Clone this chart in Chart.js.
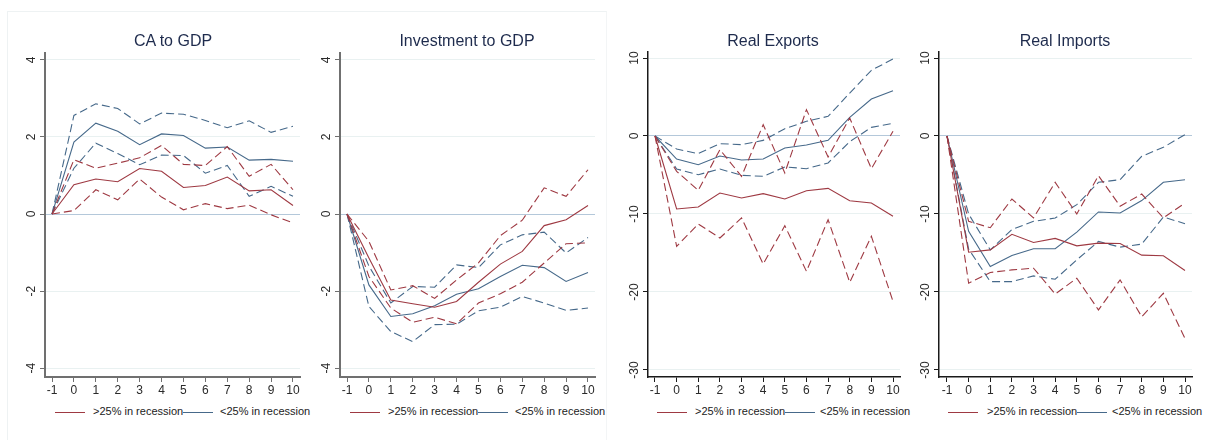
<!DOCTYPE html>
<html><head><meta charset="utf-8">
<script src="https://cdn.jsdelivr.net/npm/chart.js@4.4.0/dist/chart.umd.min.js"></script>
<style>
body{margin:0;background:#fff;width:1206px;height:440px;position:relative;overflow:hidden;font-family:"Liberation Sans",Arial,sans-serif;}
canvas{position:absolute;top:0;}
.title{position:absolute;top:32px;font-size:16px;color:#1e2b4d;transform:translateX(-50%);white-space:nowrap;}
.lg{position:absolute;top:405px;font-size:11px;color:#222;white-space:nowrap;}
.ln{position:absolute;top:412px;width:30px;height:0;border-top:1px solid;}
.frame{position:absolute;left:7px;top:11px;width:598px;height:440px;border-top:1px solid #eef2f3;border-left:1px solid #eef2f3;border-right:1px solid #f3f5f6;}
</style></head>
<body>
<div class="frame"></div>
<canvas id="c1" width="305" height="400" style="left:0px"></canvas>
<canvas id="c2" width="300" height="400" style="left:300px"></canvas>
<canvas id="c3" width="305" height="400" style="left:600px"></canvas>
<canvas id="c4" width="306" height="400" style="left:900px"></canvas>
<div class="title" style="left:173px">CA to GDP</div>
<div class="title" style="left:467px">Investment to GDP</div>
<div class="title" style="left:773px">Real Exports</div>
<div class="title" style="left:1065px">Real Imports</div>
<div id="legends"></div>
<script>
const horizons = [-1,0,1,2,3,4,5,6,7,8,9,10];
const ticksSmall = [-4,-2,0,2,4];
const ticksLarge = [-30,-20,-10,0,10];
const legendLabels = ['>25% in recession','<25% in recession'];

// CA to GDP
const caHigh      = [0,0.76,0.91,0.84,1.18,1.11,0.69,0.74,0.96,0.60,0.63,0.22];
const caHighUp    = [0,1.41,1.19,1.32,1.46,1.78,1.29,1.26,1.75,0.98,1.29,0.63];
const caHighLo    = [0,0.09,0.63,0.37,0.91,0.44,0.11,0.27,0.14,0.23,-0.02,-0.23];
const caLow       = [0,1.87,2.36,2.15,1.80,2.08,2.04,1.71,1.74,1.40,1.42,1.37];
const caLowUp     = [0,2.56,2.86,2.74,2.34,2.62,2.59,2.43,2.24,2.42,2.12,2.28];
const caLowLo     = [0,1.19,1.84,1.57,1.28,1.53,1.52,1.06,1.26,0.46,0.72,0.46];

// Investment to GDP
const invHigh     = [0,-1.14,-2.23,-2.33,-2.42,-2.27,-1.77,-1.30,-0.97,-0.30,-0.15,0.22];
const invHighUp   = [0,-0.71,-1.97,-1.86,-2.19,-1.71,-1.27,-0.56,-0.16,0.68,0.46,1.15];
const invHighLo   = [0,-1.62,-2.44,-2.81,-2.68,-2.85,-2.31,-2.07,-1.77,-1.27,-0.77,-0.75];
const invLow      = [0,-1.84,-2.66,-2.59,-2.38,-2.08,-1.94,-1.62,-1.33,-1.39,-1.75,-1.52];
const invLowUp    = [0,-1.35,-2.31,-1.88,-1.90,-1.32,-1.39,-0.80,-0.54,-0.47,-1.01,-0.61];
const invLowLo    = [0,-2.40,-3.05,-3.31,-2.87,-2.86,-2.51,-2.42,-2.14,-2.31,-2.50,-2.44];

// Real Exports
const exHigh      = [0,-9.36,-9.10,-7.31,-7.95,-7.39,-8.08,-7.01,-6.71,-8.30,-8.60,-10.30];
const exHighUp    = [0,-4.53,-6.97,-1.75,-5.17,1.45,-4.74,3.38,-2.69,2.31,-4.19,0.60];
const exHighLo    = [0,-14.15,-11.28,-13.08,-10.51,-16.41,-11.50,-17.35,-10.73,-18.76,-12.86,-21.20];
const exLow       = [0,-2.95,-3.68,-2.56,-3.08,-2.95,-1.54,-1.15,-0.56,2.39,4.74,5.81];
const exLowUp     = [0,-1.67,-2.26,-0.98,-1.11,-0.56,0.94,1.88,2.52,5.51,8.42,9.87];
const exLowLo     = [0,-4.23,-4.96,-4.23,-5.04,-5.17,-3.97,-4.19,-3.46,-0.73,1.11,1.62];

// Real Imports
const imHigh      = [0,-14.90,-14.60,-12.60,-13.65,-13.13,-14.08,-13.73,-13.78,-15.28,-15.36,-17.25];
const imHighUp    = [0,-10.94,-11.76,-8.08,-10.50,-5.94,-10.00,-5.09,-9.00,-7.44,-10.50,-8.60];
const imHighLo    = [0,-18.88,-17.50,-17.17,-16.95,-20.26,-18.24,-22.30,-18.45,-23.18,-20.17,-25.97];
const imLow       = [0,-12.23,-16.74,-15.32,-14.46,-14.46,-12.32,-9.74,-9.87,-8.28,-5.94,-5.60];
const imLowUp     = [0,-10.00,-14.60,-12.00,-10.94,-10.52,-8.80,-5.94,-5.60,-2.60,-1.45,0.17];
const imLowLo     = [0,-14.50,-18.67,-18.67,-17.94,-18.37,-15.88,-13.52,-14.25,-13.86,-10.39,-11.24];

const RED = '#9e3942', BLUE = '#46698a';
const DASH = [8,4];

function ds(vals, color, dashed){
  return {data: vals.map((v,i)=>({x:horizons[i], y:v})), borderColor: color, borderWidth: 1.1,
    borderDash: dashed ? DASH : [], pointRadius: 0, tension: 0, fill: false};
}

function makeChart(id, sets, cfg){
  const xMin = -1 - cfg.xOff / cfg.xStep, xMax = 10 + cfg.rOff / cfg.xStep;
  new Chart(document.getElementById(id), {
    type: 'line',
    data: {datasets: [
      ds(sets[0], RED, false), ds(sets[1], RED, true), ds(sets[2], RED, true),
      ds(sets[3], BLUE, false), ds(sets[4], BLUE, true), ds(sets[5], BLUE, true)
    ]},
    options: {
      responsive: false, animation: false, devicePixelRatio: 1,
      layout: {padding: {top: cfg.top, right: cfg.right, left: 0, bottom: 0}},
      plugins: {legend: {display: false}, tooltip: {enabled: false}, title: {display: false}},
      scales: {
        x: {type: 'linear', min: xMin, max: xMax,
          afterBuildTicks: s => { s.ticks = horizons.map(v => ({value: v})); },
          afterFit: s => { s.height = 23; },
          grid: {drawOnChartArea: false, drawTicks: true, tickLength: 5, tickColor: cfg.axisColor, tickWidth: 1},
          border: {color: cfg.axisColor, width: cfg.axisWidth},
          ticks: {color: '#2a2a2a', font: {family: '"Liberation Sans", Arial', size: 12}, padding: 1, maxRotation: 0, minRotation: 0, autoSkip: false}
        },
        y: {type: 'linear', min: cfg.yMin, max: cfg.yMax,
          afterBuildTicks: s => { s.ticks = cfg.yTicks.map(v => ({value: v})); },
          afterFit: s => { s.width = cfg.axisW; },
          grid: {drawOnChartArea: true, drawTicks: true, tickLength: 5,
            color: c => (c.tick && c.tick.value === 0) ? '#b4c8da' : '#e9f1f1',
            lineWidth: 1, tickColor: cfg.axisColor},
          border: {color: cfg.axisColor, width: cfg.axisWidth},
          ticks: {color: '#2a2a2a', font: {family: '"Liberation Sans", Arial', size: 12}, padding: cfg.yPad,
            minRotation: 90, maxRotation: 90, crossAlign: 'center', autoSkip: false}
        }
      }
    }
  });
}

const smallY = {yMin: -4.23, yMax: 4.18, yTicks: ticksSmall};
const largeY = {yMin: -30.9, yMax: 10.77, yTicks: ticksLarge};
makeChart('c1', [caHigh, caHighUp, caHighLo, caLow, caLowUp, caLowLo],
  Object.assign({top: 53, right: 5, axisW: 45, xOff: 7, rOff: 7, xStep: 21.9, axisColor: '#707070', axisWidth: 2, yPad: 3}, smallY));
makeChart('c2', [invHigh, invHighUp, invHighLo, invLow, invLowUp, invLowLo],
  Object.assign({top: 53, right: 5, axisW: 40, xOff: 7, rOff: 7, xStep: 21.9, axisColor: '#707070', axisWidth: 2, yPad: 3}, smallY));
makeChart('c3', [exHigh, exHighUp, exHighLo, exLow, exLowUp, exLowLo],
  Object.assign({top: 52, right: 5, axisW: 48, xOff: 7, rOff: 7, xStep: 21.64, axisColor: '#1a1a1a', axisWidth: 1.5, yPad: 0}, largeY));
makeChart('c4', [imHigh, imHighUp, imHighLo, imLow, imLowUp, imLowLo],
  Object.assign({top: 52, right: 14, axisW: 39, xOff: 8, rOff: 7, xStep: 21.64, axisColor: '#1a1a1a', axisWidth: 1.5, yPad: 0}, largeY));

// legends
const legendPos = [[55,93,183,220],[350,388,478,515],[657,695,785,820],[948,987,1077,1112]];
const lgWrap = document.getElementById('legends');
legendPos.forEach(p => {
  lgWrap.insertAdjacentHTML('beforeend',
    `<div class="ln" style="left:${p[0]}px;border-color:${RED}"></div>` +
    `<div class="lg" style="left:${p[1]}px">${legendLabels[0].replace('>','&gt;')}</div>` +
    `<div class="ln" style="left:${p[2]}px;border-color:${BLUE}"></div>` +
    `<div class="lg" style="left:${p[3]}px">${legendLabels[1].replace('<','&lt;')}</div>`);
});
</script>
</body></html>
